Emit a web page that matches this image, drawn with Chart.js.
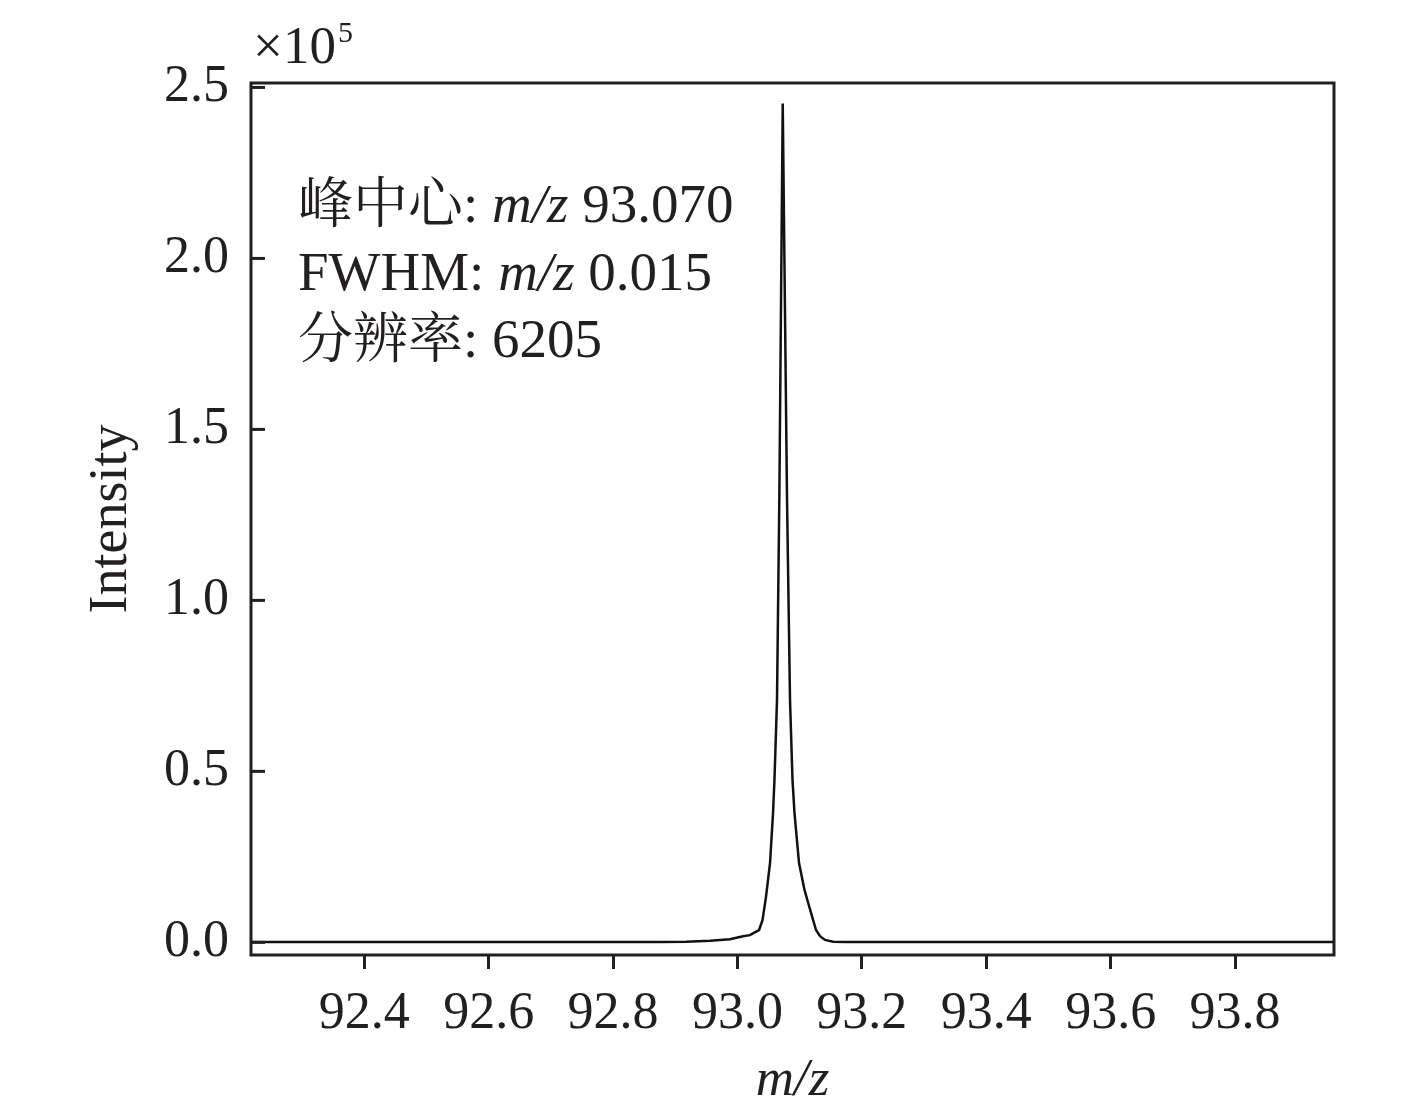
<!DOCTYPE html>
<html lang="zh">
<head>
  <meta charset="UTF-8">
  <title>峰中心 m/z 93.070</title>
  <script src="https://cdn.jsdelivr.net/npm/chart.js"></script>
  <style>
    body {
      margin: 0;
      background: #fff;
    }
    canvas {
      display: block;
    }
  </style>
</head>
<body>
  <canvas id="peakChart" width="1417" height="1114"></canvas>

  <script>
    // m/z values and intensity (x10^5)
    const mzValues = [
      92.218, 92.5, 92.8, 92.875, 92.918, 92.956, 92.988, 93.009, 93.020,
      93.0315, 93.0347, 93.0403, 93.0459, 93.0524, 93.0572, 93.0595, 93.0636,
      93.0673, 93.0728,
      93.0797, 93.0845, 93.0885, 93.0917, 93.099, 93.1078, 93.1183, 93.1263,
      93.1328, 93.1408, 93.1537, 93.173, 93.4, 93.7, 93.959
    ];
    const intensityValues = [
      0.001, 0.001, 0.001, 0.001, 0.002, 0.005, 0.009, 0.018, 0.021,
      0.033, 0.036, 0.065, 0.133, 0.232, 0.378, 0.475, 0.709,
      1.294, 2.453,
      1.294, 0.709, 0.475, 0.378, 0.232, 0.153, 0.086, 0.036,
      0.018, 0.007, 0.002, 0.001, 0.001, 0.001, 0.001
    ];

    const xTickValues = [92.4, 92.6, 92.8, 93.0, 93.2, 93.4, 93.6, 93.8];
    const yTickValues = [0.0, 0.5, 1.0, 1.5, 2.0, 2.5];

    // each line: [text, style] with style c = CJK, r = roman, i = italic
    const annotationLines = [
      [["峰中心", "c"], [": ", "r"], ["m/z", "i"], [" 93.070", "r"]],
      [["FWHM: ", "r"], ["m/z", "i"], [" 0.015", "r"]],
      [["分辨率", "c"], [": 6205", "r"]]
    ];

    const ink = "#231f20";
    const serif = '"Liberation Serif", "Noto Serif CJK SC", "Noto Sans CJK SC", serif';
    const fontFor = {
      c: '55px "Noto Serif CJK SC", "Noto Sans CJK SC", sans-serif',
      r: "55px " + serif,
      i: "italic 55px " + serif
    };

    // frame, inward y ticks, exponent and peak info
    const extras = {
      id: "extras",
      afterDraw(chart) {
        const { ctx, chartArea } = chart;
        const yScale = chart.scales.y;
        ctx.save();
        ctx.strokeStyle = ink;
        ctx.lineWidth = 3;
        ctx.strokeRect(chartArea.left, chartArea.top,
          chartArea.right - chartArea.left, chartArea.bottom - chartArea.top);

        yScale.ticks.forEach(t => {
          const py = yScale.getPixelForValue(t.value);
          ctx.beginPath();
          ctx.moveTo(chartArea.left, py);
          ctx.lineTo(chartArea.left + 14, py);
          ctx.stroke();
        });

        ctx.fillStyle = ink;
        ctx.textBaseline = "alphabetic";
        ctx.textAlign = "left";
        ctx.font = "53px " + serif;
        ctx.fillText("×10", 253, 63);
        const w10 = ctx.measureText("×10").width;
        ctx.font = "30px " + serif;
        ctx.fillText("5", 253 + w10 + 2, 42);

        annotationLines.forEach((parts, i) => {
          let x = 298;
          const y = 222 + i * 67.5;
          parts.forEach(([text, style]) => {
            ctx.font = fontFor[style];
            ctx.fillText(text, x, y);
            x += ctx.measureText(text).width;
          });
        });
        ctx.restore();
      }
    };

    const ctx = document.getElementById("peakChart").getContext("2d");
    new Chart(ctx, {
      type: "line",
      data: {
        datasets: [{
          data: mzValues.map((m, i) => ({ x: m, y: intensityValues[i] })),
          borderColor: "#111",
          borderWidth: 2.5,
          pointRadius: 0,
          tension: 0,
          fill: false
        }]
      },
      options: {
        responsive: false,
        animation: false,
        devicePixelRatio: 1,
        layout: { padding: { left: 0, top: 83, right: 83, bottom: 0 } },
        plugins: {
          legend: { display: false },
          tooltip: { enabled: false }
        },
        scales: {
          x: {
            type: "linear",
            min: 92.218,
            max: 93.959,
            afterFit(scale) { scale.height = 159; },
            afterBuildTicks(scale) {
              scale.ticks = xTickValues.map(v => ({ value: v }));
            },
            grid: {
              drawOnChartArea: false,
              drawTicks: true,
              tickLength: 14,
              tickWidth: 3,
              tickColor: ink,
              color: ink
            },
            border: { display: false },
            ticks: {
              color: ink,
              padding: 14,
              maxRotation: 0,
              autoSkip: false,
              font: { family: serif, size: 52 },
              callback: v => v.toFixed(1)
            },
            title: {
              display: true,
              text: "m/z",
              color: ink,
              font: { family: serif, size: 53, style: "italic" },
              padding: { top: 0, bottom: 1 }
            }
          },
          y: {
            type: "linear",
            min: -0.037,
            max: 2.513,
            afterFit(scale) { scale.width = 251; },
            afterBuildTicks(scale) {
              scale.ticks = yTickValues.map(v => ({ value: v }));
            },
            grid: { display: false, drawTicks: false },
            border: { display: false },
            ticks: {
              color: ink,
              padding: 22,
              autoSkip: false,
              font: { family: serif, size: 52 },
              callback: v => v.toFixed(1)
            },
            title: {
              display: true,
              text: "Intensity",
              color: ink,
              font: { family: serif, size: 54 },
              padding: { top: 79, bottom: 0 }
            }
          }
        }
      },
      plugins: [extras]
    });
  </script>
</body>
</html>
